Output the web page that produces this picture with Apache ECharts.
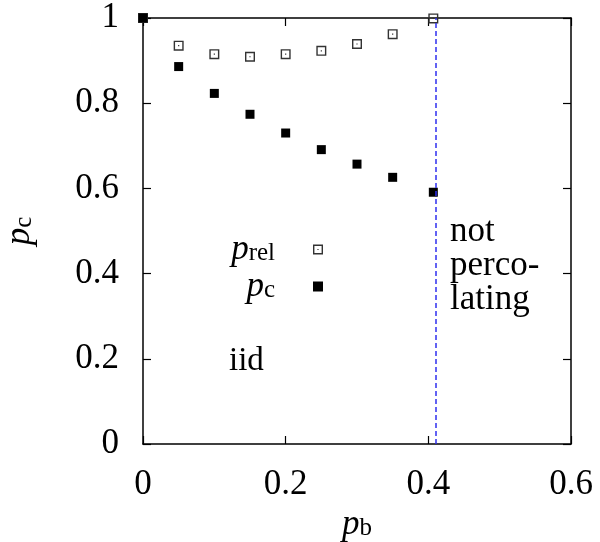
<!DOCTYPE html>
<html>
<head>
<meta charset="utf-8">
<script src="https://cdn.jsdelivr.net/npm/echarts@6/dist/echarts.min.js"></script>
<style>html,body{margin:0;padding:0;background:#fff}#c{width:600px;height:542px}</style>
</head>
<body>
<div id="c"></div>
<script>
// data
var pb   = [0, 0.05, 0.10, 0.15, 0.20, 0.25, 0.30, 0.35, 0.407];
var pc   = [1.000, 0.886, 0.823, 0.774, 0.730, 0.691, 0.657, 0.626, 0.591];
var prel = [1.000, 0.935, 0.915, 0.909, 0.915, 0.923, 0.939, 0.962, 0.999];
var threshold = 0.407;
var xTicks = [0, 0.2, 0.4, 0.6];
var yTicks = [0, 0.2, 0.4, 0.6, 0.8, 1];

var FONT = 'Liberation Serif';
var openSq = 'path://M0,0H10V10H0Z M1.4,1.4V8.6H8.6V1.4Z M4.4,4.4H5.6V5.6H4.4Z';

function pairs(xs, ys){ return xs.map(function(x,i){ return [x, ys[i]]; }); }
function fmt(v){ return String(+v.toFixed(1)); }

var rich = {
  i: {fontFamily: FONT, fontStyle: 'italic', fontSize: 35, lineHeight: 34, color: '#000'},
  s: {fontFamily: FONT, fontSize: 25, lineHeight: 18, verticalAlign: 'bottom', color: '#000'}
};
var richLeg = {
  i: {fontFamily: FONT, fontStyle: 'italic', fontSize: 35, lineHeight: 32, color: '#000'},
  s: {fontFamily: FONT, fontSize: 25, lineHeight: 16, verticalAlign: 'bottom', color: '#000', padding: [0, 33, 0, 0]}
};

var axisLine = {show: true, onZero: false, lineStyle: {color: '#000', width: 1.5}};
var tick = {show: true, inside: true, length: 8, lineStyle: {color: '#000', width: 1.2}};
var lab = {fontFamily: FONT, fontSize: 35, color: '#000'};

var chart = echarts.init(document.getElementById('c'), null, {renderer: 'canvas'});
chart.setOption({
  animation: false,
  backgroundColor: '#fff',
  grid: {left: 143, right: 29, top: 18, bottom: 98, containLabel: false, outerBoundsMode: 'none'},
  xAxis: [{
    type: 'value', min: 0, max: 0.6, interval: 0.2, position: 'bottom',
    axisLine: axisLine, axisTick: tick, splitLine: {show: false},
    axisLabel: Object.assign({margin: 23, formatter: fmt}, lab),
    name: '{i|p}{s|b}', nameLocation: 'middle', nameGap: 47,
    nameTextStyle: {rich: rich}
  }, {
    type: 'value', min: 0, max: 0.6, interval: 0.2, position: 'top',
    axisLine: axisLine, axisTick: tick, splitLine: {show: false}, axisLabel: {show: false}
  }],
  yAxis: [{
    type: 'value', min: 0, max: 1, interval: 0.2, position: 'left',
    axisLine: axisLine, axisTick: tick, splitLine: {show: false},
    axisLabel: Object.assign({margin: 24, formatter: fmt}, lab),
    name: '{i|p}{s|c}', nameLocation: 'middle', nameGap: 106,
    nameTextStyle: {rich: rich}
  }, {
    type: 'value', min: 0, max: 1, interval: 0.2, position: 'right',
    axisLine: axisLine, axisTick: tick, splitLine: {show: false}, axisLabel: {show: false}
  }],
  legend: {
    data: ['prel', 'pc'], orient: 'vertical', align: 'right',
    right: 277, top: 232, padding: 0, itemWidth: 10, itemHeight: 10, itemGap: 2,
    selectedMode: false,
    formatter: function(n){ return n === 'prel' ? '{i|p}{s|rel}' : '{i|p}{s|c}'; },
    textStyle: {rich: richLeg}
  },
  series: [{
    name: 'prel', type: 'scatter', data: pairs(pb, prel),
    symbol: openSq, symbolSize: 10, itemStyle: {color: '#333', opacity: 1}, z: 3,
    markLine: {
      silent: true, symbol: ['none', 'none'], label: {show: false},
      lineStyle: {color: '#2f2ff0', width: 1.5, type: [5, 3], opacity: 1},
      data: [{xAxis: threshold}]
    }
  }, {
    name: 'pc', type: 'scatter', data: pairs(pb, pc),
    symbol: 'rect', symbolSize: 9, itemStyle: {color: '#000', opacity: 1}, z: 4
  }],
  graphic: [{
    type: 'text', left: 229, top: 345,
    style: {text: 'iid', font: '33px "Liberation Serif"', fill: '#000'}
  }, {
    type: 'text', left: 450, top: 214,
    style: {text: 'not\nperco-\nlating', font: '35px "Liberation Serif"', lineHeight: 34, fill: '#000'}
  }]
});
</script>
</body>
</html>
